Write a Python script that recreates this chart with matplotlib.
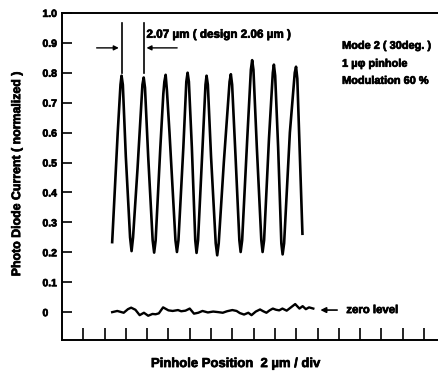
import numpy as np
import matplotlib
matplotlib.use('Agg')
from matplotlib import pyplot as plt
from matplotlib import patheffects as pe

plt.rcParams['font.family'] = ['Liberation Sans', 'DejaVu Sans']
plt.rcParams['font.weight'] = 'bold'

# x in divisions (2 um / div), y normalized current
signal_x = [2.36, 2.62, 2.75, 2.80, 2.86, 3.00, 3.20, 3.27, 3.34, 3.55, 3.78, 3.84, 3.90, 4.05,
            4.26, 4.33, 4.40, 4.62, 4.76, 4.81, 4.87, 4.93, 5.05, 5.33, 5.40, 5.47, 5.70,
            5.84, 5.90, 5.96, 6.10, 6.26, 6.32, 6.39, 6.60, 6.74, 6.79, 6.85, 7.00, 7.22,
            7.29, 7.36, 7.60, 7.87, 7.93, 7.99, 8.15, 8.33, 8.39, 8.46, 8.70, 8.87, 8.93,
            8.99, 9.15, 9.36, 9.42, 9.49, 9.72, 9.90, 9.95, 10.01, 10.15, 10.30, 10.36,
            10.43, 10.70, 10.93, 10.99, 11.05, 11.29]
signal_y = [0.234, 0.60, 0.76, 0.790, 0.76, 0.52, 0.25, 0.204, 0.25, 0.48, 0.76, 0.784, 0.75,
            0.52, 0.24, 0.199, 0.24, 0.55, 0.729, 0.77, 0.793, 0.74, 0.60, 0.24, 0.201, 0.24,
            0.55, 0.77, 0.800, 0.77, 0.55, 0.24, 0.198, 0.24, 0.55, 0.76, 0.790, 0.76, 0.52,
            0.23, 0.190, 0.23, 0.50, 0.77, 0.795, 0.76, 0.52, 0.24, 0.201, 0.24, 0.58, 0.81,
            0.842, 0.81, 0.55, 0.24, 0.201, 0.24, 0.58, 0.80, 0.827, 0.79, 0.55, 0.23, 0.193,
            0.23, 0.60, 0.80, 0.820, 0.78, 0.262]

zero_x = [2.36, 2.60, 2.90, 3.10, 3.25, 3.45, 3.65, 3.85, 4.05, 4.25, 4.40, 4.55, 4.75, 5.00,
          5.20, 5.45, 5.60, 5.80, 6.00, 6.20, 6.40, 6.60, 6.85, 7.10, 7.35, 7.55, 7.75, 8.00,
          8.20, 8.35, 8.55, 8.75, 8.90, 9.10, 9.30, 9.45, 9.60, 9.75, 9.90, 10.05, 10.20,
          10.35, 10.55, 10.75, 10.95, 11.15, 11.30, 11.45, 11.60, 11.80]
zero_y = [0.000, 0.004, -0.002, 0.010, 0.015, 0.008, -0.010, -0.002, -0.012, -0.006, -0.007,
          -0.004, 0.016, 0.006, 0.004, 0.007, 0.003, 0.005, 0.012, -0.005, -0.002, 0.004,
          -0.001, 0.002, 0.000, -0.002, 0.003, 0.007, 0.004, -0.003, -0.008, -0.002,
          -0.010, 0.002, 0.009, 0.003, -0.002, 0.006, 0.012, 0.008, 0.006, 0.012, 0.005,
          0.016, 0.027, 0.012, 0.020, 0.010, 0.016, 0.012]

y_ticks = [0, 0.1, 0.2, 0.3, 0.4, 0.5, 0.6, 0.7, 0.8, 0.9, 1.0]
y_tick_labels = ['0', '0.1', '0.2', '0.3', '0.4', '0.5', '0.6', '0.7', '0.8', '0.9', '1.0']
x_ticks = list(range(1, 18))

# first two peaks used for the period dimension
peak_a = 2.80
peak_b = 3.84

ink = [pe.withStroke(linewidth=0.5, foreground='black')]

fig = plt.figure(figsize=(4.39, 3.73), dpi=100)
ax = fig.add_axes([0.141, 0.0885, 0.859, 0.877])

ax.plot(signal_x, signal_y, color='black', lw=1.9, solid_joinstyle='round')
ax.plot(zero_x, zero_y, color='black', lw=1.7)

ax.set_xlim(0, 17.7)
ax.set_ylim(-0.093, 1.0)
ax.set_yticks(y_ticks)
ax.set_yticklabels(y_tick_labels, fontsize=7.5, fontweight='bold')
for lab in ax.get_yticklabels():
    lab.set_horizontalalignment('left')
    lab.set_path_effects(ink)
ax.set_xticks(x_ticks)
ax.set_xticklabels([])
ax.tick_params(axis='y', direction='in', length=7, width=1.2, pad=14)
ax.tick_params(axis='x', direction='in', length=9, width=1.2)
ax.spines['right'].set_visible(False)
for s in ['left', 'top', 'bottom']:
    ax.spines[s].set_linewidth(1.4)

# period dimension lines
ax.plot([peak_a, peak_a], [0.80, 0.965], color='black', lw=1.2)
ax.plot([peak_b, peak_b], [0.80, 0.965], color='black', lw=1.2)
ax.annotate('', xy=(peak_a, 0.883), xytext=(1.5, 0.883),
            arrowprops=dict(arrowstyle='-|>', color='black', lw=1.0, mutation_scale=7))
ax.annotate('', xy=(peak_b, 0.883), xytext=(5.54, 0.883),
            arrowprops=dict(arrowstyle='-|>', color='black', lw=1.0, mutation_scale=7))
ax.text(3.97, 0.927, '2.07 µm ( design 2.06 µm )', fontsize=8.4, fontweight='bold',
        va='center', ha='left', path_effects=ink)

ax.text(13.15, 0.89, 'Mode 2 ( 30deg. )', fontsize=7.9, fontweight='bold', va='center',
        path_effects=ink)
ax.text(13.15, 0.83, '1 µφ pinhole', fontsize=7.9, fontweight='bold', va='center',
        path_effects=ink)
ax.text(13.15, 0.773, 'Modulation 60 %', fontsize=7.9, fontweight='bold', va='center',
        path_effects=ink)

ax.annotate('', xy=(12.0, 0.007), xytext=(13.05, 0.007),
            arrowprops=dict(arrowstyle='-|>', color='black', lw=1.2, mutation_scale=8))
ax.text(13.35, 0.007, 'zero level', fontsize=8.2, fontweight='bold', va='center',
        path_effects=ink)

fig.text(0.039, 0.536, 'Photo Diode Current ( normalized )', rotation=90, fontsize=8.9,
         fontweight='bold', ha='center', va='center', path_effects=ink)
fig.text(0.535, 0.024, 'Pinhole Position  2 µm / div', fontsize=9.4, fontweight='bold',
         ha='center', va='center', path_effects=ink)

fig.savefig('out.png', dpi=100)
